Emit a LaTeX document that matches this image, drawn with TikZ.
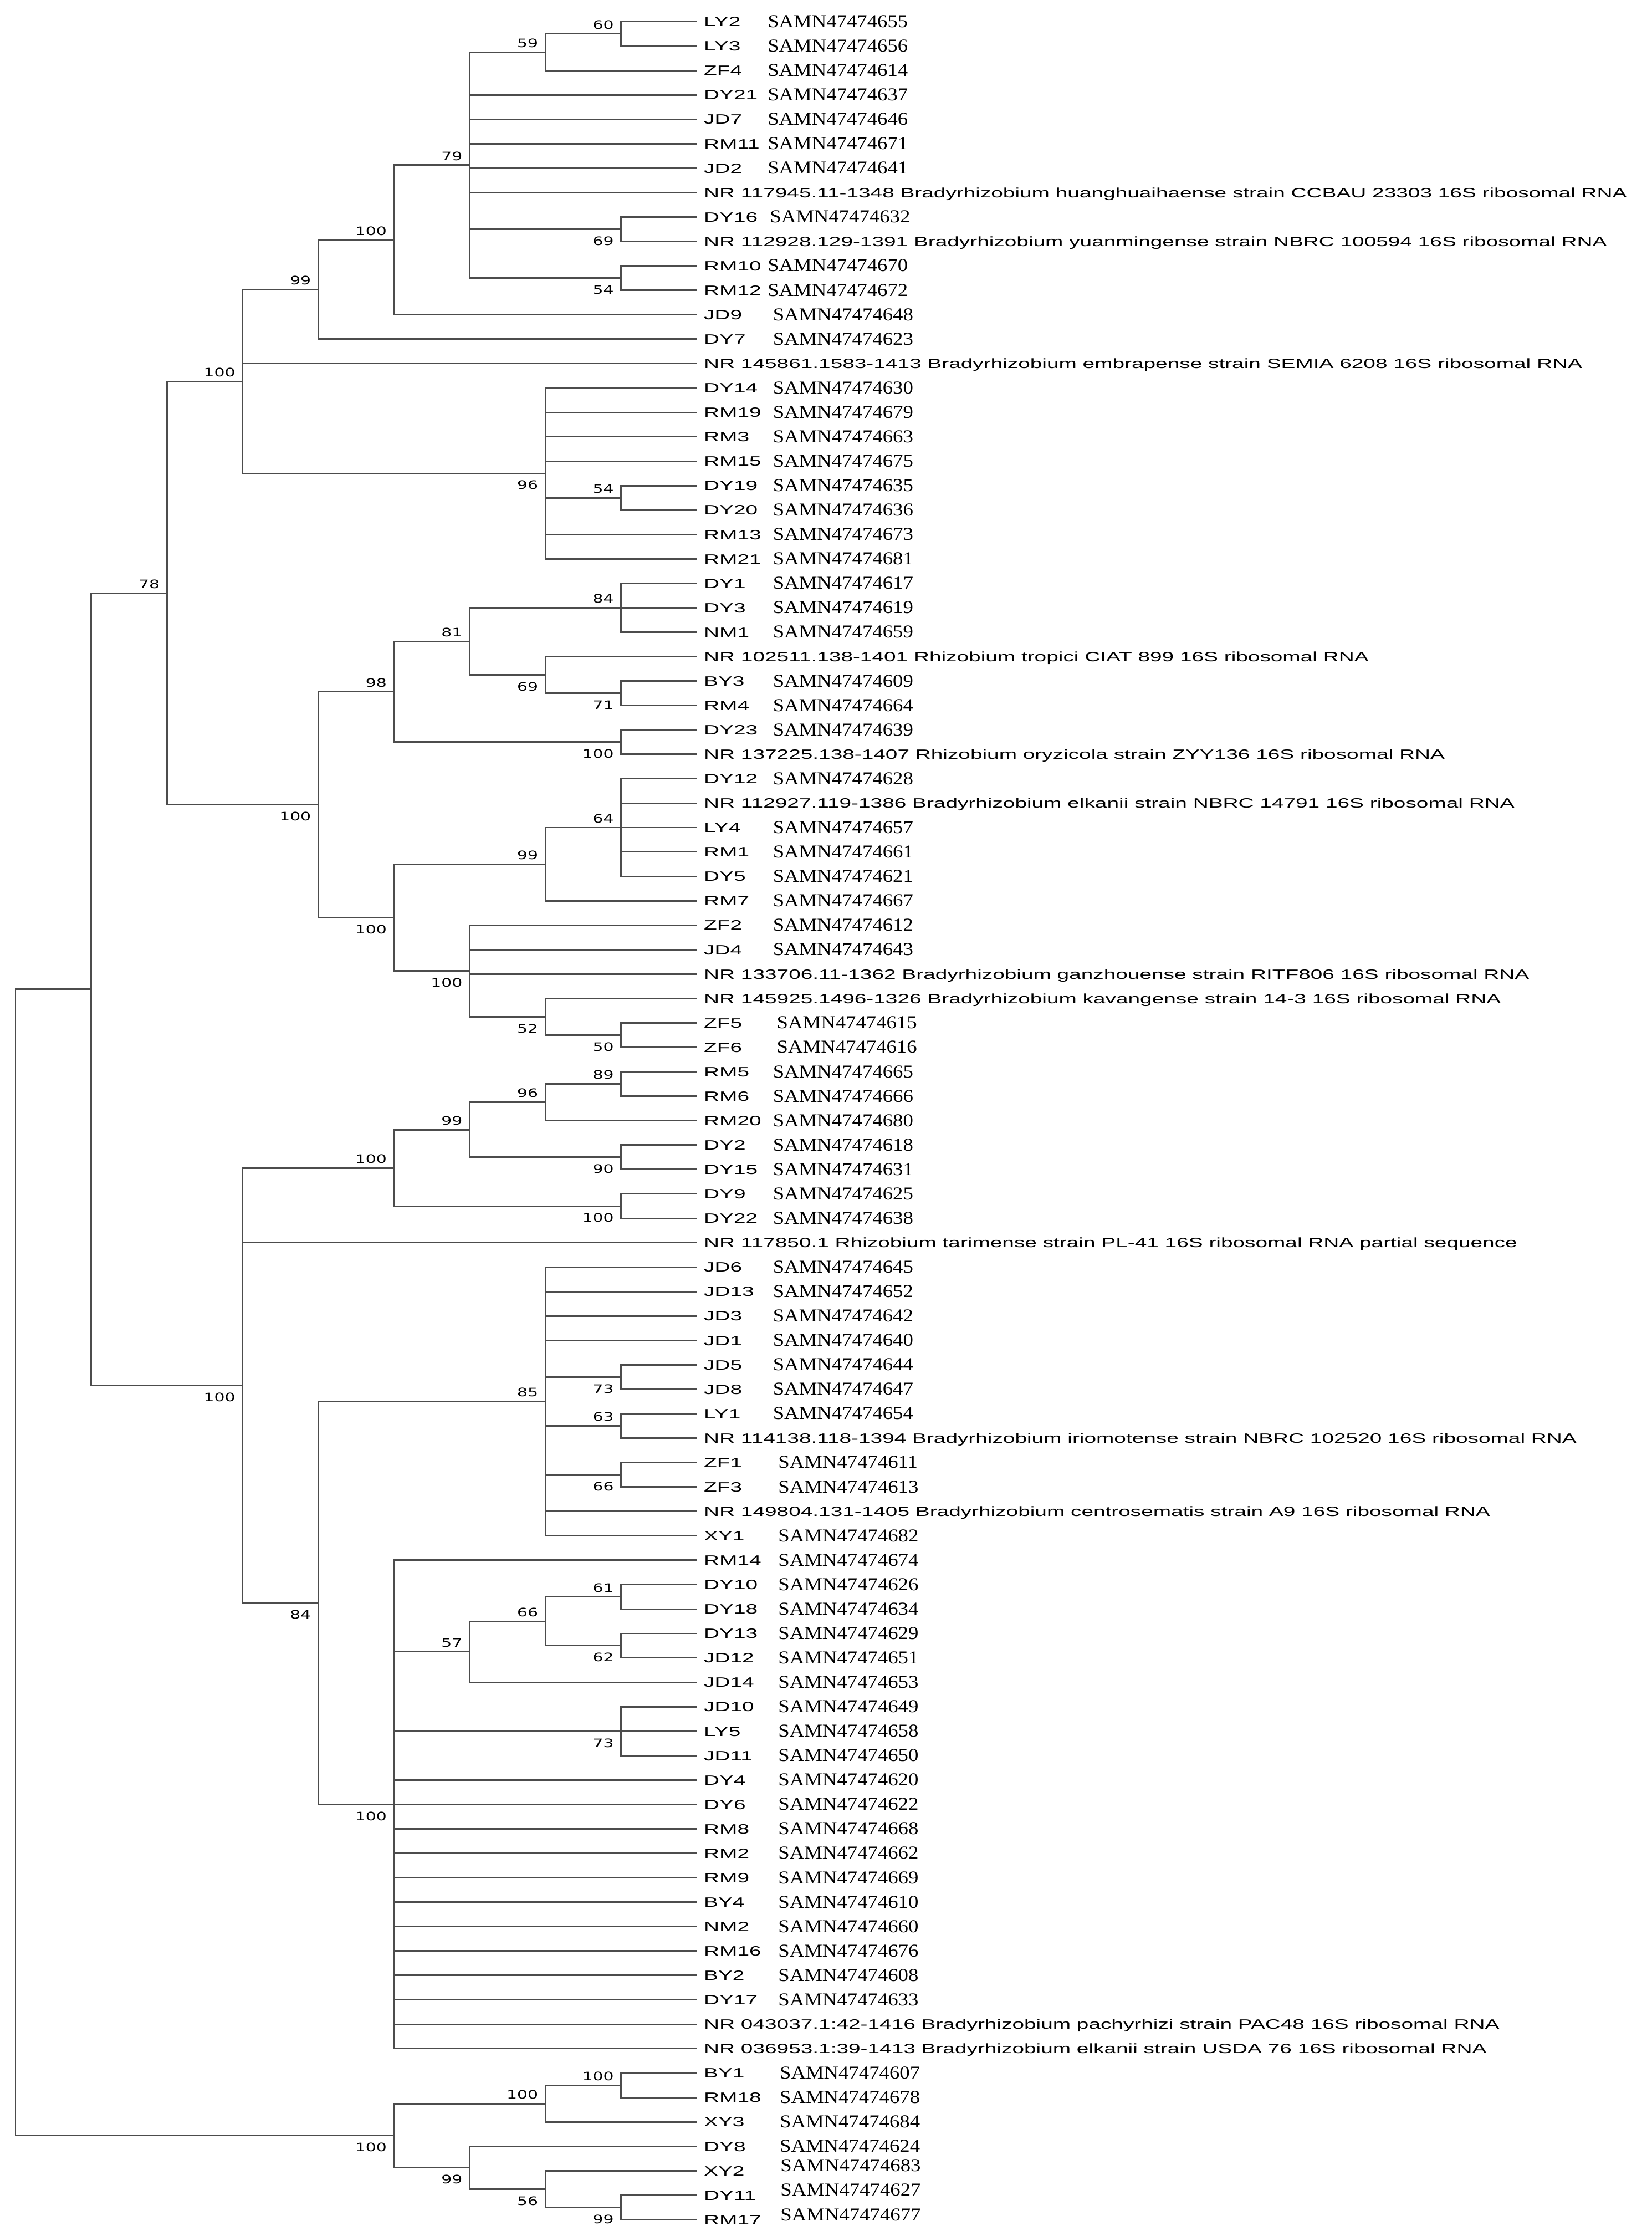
\documentclass[tikz,border=0pt]{standalone}
\usepackage{fontspec}
\newfontfamily\leaffont[FakeStretch=1.59]{Liberation Sans}
\newfontfamily\samnfont[FakeStretch=1.12]{Liberation Serif}
\newfontfamily\bootfont[FakeStretch=1.42]{DejaVu Sans}
\tikzset{
  branch/.style={draw=black!70, line width=0.7pt},
  leafid/.style={anchor=base west, inner sep=0pt, xshift=3pt, yshift=-2.19pt,
    font=\leaffont\fontsize{6.1pt}{7pt}\selectfont},
  samn/.style={anchor=base west, inner sep=0pt, yshift=-2.6pt,
    font=\samnfont\fontsize{8.2pt}{9pt}\selectfont},
  bootup/.style={anchor=south east, inner sep=0pt, xshift=-3.1pt, yshift=1.9pt,
    font=\bootfont\fontsize{5.25pt}{6pt}\selectfont},
  bootdn/.style={anchor=north east, inner sep=0pt, xshift=-3.1pt, yshift=-3.1pt,
    font=\bootfont\fontsize{5.25pt}{6pt}\selectfont},
}

\begin{document}
\begin{tikzpicture}[x=34.15pt, y=-11.015pt]
  \useasboundingbox (-7pt,9.75pt) rectangle (738pt,-998.75pt);

  % leaf tips, one per row
  \foreach \i in {0,...,90}
    \coordinate (l\i) at (9,\i);

  % internal nodes (level, row)
  \coordinate (root)  at (0,63.09);
  \coordinate (bL1)   at (1,39.62);
  \coordinate (b78)   at (2,23.40);
  \coordinate (b100b) at (3,14.73);
  \coordinate (b99a)  at (4,10.97);
  \coordinate (b100a) at (5,8.94);
  \coordinate (b79)   at (6,5.875);
  \coordinate (b59)   at (7,1.25);
  \coordinate (b60)   at (8,0.5);
  \coordinate (b69a)  at (8,8.5);
  \coordinate (b54a)  at (8,10.5);
  \coordinate (b96a)  at (7,18.5);
  \coordinate (b54b)  at (8,19.5);
  \coordinate (b100f) at (4,32.06);
  \coordinate (b98)   at (5,27.44);
  \coordinate (b81)   at (6,25.375);
  \coordinate (b84a)  at (8,24);
  \coordinate (b69b)  at (7,26.75);
  \coordinate (b71)   at (8,27.5);
  \coordinate (b100c) at (8,29.5);
  \coordinate (b100e) at (5,36.69);
  \coordinate (b99b)  at (7,34.5);
  \coordinate (b64)   at (8,33);
  \coordinate (b100d) at (6,38.875);
  \coordinate (b52)   at (7,40.75);
  \coordinate (b50)   at (8,41.5);
  \coordinate (b100j) at (3,55.84);
  \coordinate (b100h) at (5,46.94);
  \coordinate (b99c)  at (6,45.375);
  \coordinate (b96b)  at (7,44.25);
  \coordinate (b89)   at (8,43.5);
  \coordinate (b90)   at (8,46.5);
  \coordinate (b100g) at (8,48.5);
  \coordinate (b84b)  at (4,64.75);
  \coordinate (b85)   at (7,56.5);
  \coordinate (b73a)  at (8,55.5);
  \coordinate (b63)   at (8,57.5);
  \coordinate (b66a)  at (8,59.5);
  \coordinate (b100i) at (5,73);
  \coordinate (b57)   at (6,66.75);
  \coordinate (b66b)  at (7,65.5);
  \coordinate (b61)   at (8,64.5);
  \coordinate (b62)   at (8,66.5);
  \coordinate (b73b)  at (8,70);
  \coordinate (b100m) at (5,86.56);
  \coordinate (b100l) at (7,85.25);
  \coordinate (b100k) at (8,84.5);
  \coordinate (b99d)  at (6,87.875);
  \coordinate (b56)   at (7,88.75);
  \coordinate (b99e)  at (8,89.5);

  % branches
  \foreach \p/\kids in {root/{bL1,b100m}, bL1/{b78,b100j}, b78/{b100b,b100f},
      b100b/{b99a,l14,b96a}, b99a/{b100a,l13}, b100a/{b79,l12},
      b79/{b59,l3,l4,l5,l6,l7,b69a,b54a}, b59/{b60,l2}, b60/{l0,l1},
      b69a/{l8,l9}, b54a/{l10,l11},
      b96a/{l15,l16,l17,l18,b54b,l21,l22}, b54b/{l19,l20},
      b100f/{b98,b100e}, b98/{b81,b100c}, b81/{b84a,b69b}, b84a/{l23,l24,l25},
      b69b/{l26,b71}, b71/{l27,l28}, b100c/{l29,l30},
      b100e/{b99b,b100d}, b99b/{b64,l36}, b64/{l31,l32,l33,l34,l35},
      b100d/{l37,l38,l39,b52}, b52/{l40,b50}, b50/{l41,l42},
      b100j/{b100h,l50,b84b}, b100h/{b99c,b100g}, b99c/{b96b,b90},
      b96b/{b89,l45}, b89/{l43,l44}, b90/{l46,l47}, b100g/{l48,l49},
      b84b/{b85,b100i}, b85/{l51,l52,l53,l54,b73a,b63,b66a,l61,l62},
      b73a/{l55,l56}, b63/{l57,l58}, b66a/{l59,l60},
      b100i/{l63,b57,b73b,l72,l73,l74,l75,l76,l77,l78,l79,l80,l81,l82,l83},
      b57/{b66b,l68}, b66b/{b61,b62}, b61/{l64,l65}, b62/{l66,l67},
      b73b/{l69,l70,l71},
      b100m/{b100l,b99d}, b100l/{b100k,l86}, b100k/{l84,l85},
      b99d/{l87,b56}, b56/{l88,b99e}, b99e/{l89,l90}}
    \foreach \k in \kids
      \draw[branch] (\p) |- (\k);

  % bootstrap values
  \foreach \p/\v in {b60/60, b59/59, b79/79, b100a/100, b99a/99, b100b/100,
      b54b/54, b78/78, b84a/84, b81/81, b98/98, b99b/99, b64/64, b89/89,
      b96b/96, b99c/99, b100h/100, b85/85, b63/63, b57/57, b66b/66, b61/61,
      b100l/100, b100k/100}
    \node[bootup] (v\p) at (\p) {\v};
  \foreach \p/\v in {b69a/69, b54a/54, b96a/96, b69b/69, b71/71, b100c/100,
      b100f/100, b100e/100, b100d/100, b52/52, b50/50, b90/90, b100g/100,
      b100j/100, b73a/73, b66a/66, b84b/84, b100i/100, b62/62, b73b/73,
      b100m/100, b99d/99, b56/56, b99e/99}
    \node[bootdn] (v\p) at (\p) {\v};

  % isolates
  \foreach \i/\id/\sn/\sx in {0/LY2/55/9.93, 1/LY3/56/9.93, 2/ZF4/14/9.93,
      3/DY21/37/9.93, 4/JD7/46/9.93, 5/RM11/71/9.93, 6/JD2/41/9.93,
      8/DY16/32/9.96, 10/RM10/70/9.93, 11/RM12/72/9.93,
      12/JD9/48/10, 13/DY7/23/10, 15/DY14/30/10, 16/RM19/79/10, 17/RM3/63/10,
      18/RM15/75/10, 19/DY19/35/10, 20/DY20/36/10, 21/RM13/73/10,
      22/RM21/81/10, 23/DY1/17/10, 24/DY3/19/10, 25/NM1/59/10, 27/BY3/09/10,
      28/RM4/64/10, 29/DY23/39/10, 31/DY12/28/10, 33/LY4/57/10, 34/RM1/61/10,
      35/DY5/21/10, 36/RM7/67/10, 37/ZF2/12/10, 38/JD4/43/10,
      41/ZF5/15/10.05, 42/ZF6/16/10.05, 43/RM5/65/10, 44/RM6/66/10,
      45/RM20/80/10, 46/DY2/18/10, 47/DY15/31/10, 48/DY9/25/10, 49/DY22/38/10,
      51/JD6/45/10, 52/JD13/52/10, 53/JD3/42/10, 54/JD1/40/10, 55/JD5/44/10,
      56/JD8/47/10, 57/LY1/54/10, 59/ZF1/11/10.07, 60/ZF3/13/10.07,
      62/XY1/82/10.07, 63/RM14/74/10.07, 64/DY10/26/10.07, 65/DY18/34/10.07,
      66/DY13/29/10.07, 67/JD12/51/10.07, 68/JD14/53/10.07, 69/JD10/49/10.07,
      70/LY5/58/10.07, 71/JD11/50/10.07, 72/DY4/20/10.07, 73/DY6/22/10.07,
      74/RM8/68/10.07, 75/RM2/62/10.07, 76/RM9/69/10.07, 77/BY4/10/10.07,
      78/NM2/60/10.07, 79/RM16/76/10.07, 80/BY2/08/10.07, 81/DY17/33/10.07,
      84/BY1/07/10.09, 85/RM18/78/10.09, 86/XY3/84/10.09, 87/DY8/24/10.09}
  {
    \node[leafid] (t\i) at (l\i) {\id};
    \node[samn] (s\i) at (\sx,\i) {SAMN474746\sn};
  }
  % last three accessions sit a little high
  \foreach \i/\id/\sn in {88/XY2/83, 89/DY11/27, 90/RM17/77}
  {
    \node[leafid] (t\i) at (l\i) {\id};
    \node[samn] (s\i) at (10.1,\i-0.2) {SAMN474746\sn};
  }

  % reference strains
  \foreach \i/\txt in {
      7/{NR 117945.11-1348 Bradyrhizobium huanghuaihaense strain CCBAU 23303 16S ribosomal RNA},
      9/{NR 112928.129-1391 Bradyrhizobium yuanmingense strain NBRC 100594 16S ribosomal RNA},
      14/{NR 145861.1583-1413 Bradyrhizobium embrapense strain SEMIA 6208 16S ribosomal RNA},
      26/{NR 102511.138-1401 Rhizobium tropici CIAT 899 16S ribosomal RNA},
      30/{NR 137225.138-1407 Rhizobium oryzicola strain ZYY136 16S ribosomal RNA},
      32/{NR 112927.119-1386 Bradyrhizobium elkanii strain NBRC 14791 16S ribosomal RNA},
      39/{NR 133706.11-1362 Bradyrhizobium ganzhouense strain RITF806 16S ribosomal RNA},
      40/{NR 145925.1496-1326 Bradyrhizobium kavangense strain 14-3 16S ribosomal RNA},
      50/{NR 117850.1 Rhizobium tarimense strain PL-41 16S ribosomal RNA partial sequence},
      58/{NR 114138.118-1394 Bradyrhizobium iriomotense strain NBRC 102520 16S ribosomal RNA},
      61/{NR 149804.131-1405 Bradyrhizobium centrosematis strain A9 16S ribosomal RNA},
      82/{NR 043037.1:42-1416 Bradyrhizobium pachyrhizi strain PAC48 16S ribosomal RNA},
      83/{NR 036953.1:39-1413 Bradyrhizobium elkanii strain USDA 76 16S ribosomal RNA}}
    \node[leafid] (t\i) at (l\i) {\txt};
\end{tikzpicture}
\end{document}
